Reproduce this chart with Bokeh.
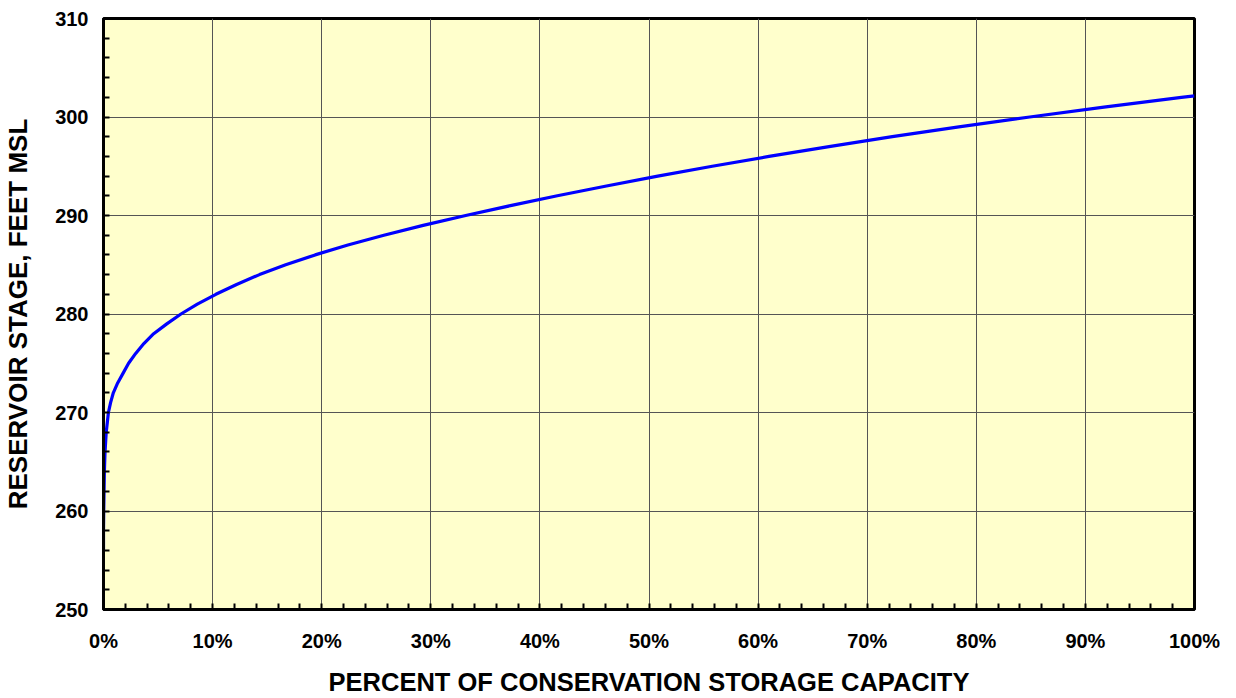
from bokeh.plotting import figure
from bokeh.models import PrintfTickFormatter, FixedTicker, Range1d
from bokeh.embed import file_html
from bokeh.resources import INLINE

# Percent of conservation storage capacity vs. reservoir stage (feet MSL)
pct = [0, 0, 0.02, 0.05, 0.08, 0.14, 0.25, 0.45, 0.65, 0.9, 1.3, 1.8, 2.3, 2.95,
       3.7, 4.6, 5.8, 7.1, 8.6, 10.3, 12.2, 14.3, 16.7, 19.4, 22.4, 25.7, 29.3,
       33.2, 37.3, 41.6, 46.1, 50.8, 55.8, 61.0, 66.5, 72.3, 78.4, 84.9, 91.7,
       98.8, 100]
stage = [256, 258, 260, 262, 264, 266, 268, 270, 271, 272, 273, 274, 275, 276,
         277, 278, 279, 280, 281, 282, 283, 284, 285, 286, 287, 288, 289,
         290, 291, 292, 293, 294, 295, 296, 297, 298, 299, 300, 301,
         302, 302.15]

x_ticks = [0, 10, 20, 30, 40, 50, 60, 70, 80, 90, 100]
y_ticks = [250, 260, 270, 280, 290, 300, 310]

FONT = "Liberation Sans"

p = figure(width=1220, height=682, frame_width=1091, frame_height=591,
           output_backend="svg", toolbar_location=None,
           x_range=Range1d(0, 100), y_range=Range1d(250, 310),
           min_border_left=102, min_border_top=18, min_border_right=26,
           min_border_bottom=60)

p.background_fill_color = "#FFFFCC"
p.border_fill_color = "white"
p.outline_line_color = "black"
p.outline_line_width = 3

p.line(pct, stage, line_color="#0000FF", line_width=3.2, line_join="round")

for ax in (p.xaxis[0], p.yaxis[0]):
    ax.axis_line_color = "black"
    ax.axis_line_width = 3
    ax.major_tick_in = 0
    ax.major_tick_out = 0
    ax.minor_tick_in = 6
    ax.minor_tick_out = 0
    ax.minor_tick_line_color = "black"
    ax.minor_tick_line_width = 2
    ax.major_label_text_font = FONT
    ax.major_label_text_font_style = "bold"
    ax.major_label_text_font_size = "20px"
    ax.major_label_text_color = "black"
    ax.axis_label_text_font = FONT
    ax.axis_label_text_font_style = "bold"
    ax.axis_label_text_color = "black"

p.xaxis.axis_label_text_font_size = "25.5px"
p.yaxis.axis_label_text_font_size = "26px"
p.xaxis.ticker = FixedTicker(ticks=x_ticks, minor_ticks=list(range(0, 101, 2)))
p.yaxis.ticker = FixedTicker(ticks=y_ticks, minor_ticks=list(range(250, 311, 2)))
p.xaxis.formatter = PrintfTickFormatter(format="%d%%")
p.xaxis.axis_label = "PERCENT OF CONSERVATION STORAGE CAPACITY"
p.yaxis.axis_label = "RESERVOIR STAGE, FEET MSL"
p.xaxis.major_label_standoff = 20
p.yaxis.major_label_standoff = 15
p.xaxis.axis_label_standoff = 13
p.yaxis.axis_label_standoff = 19

p.xgrid.ticker = FixedTicker(ticks=x_ticks)
p.ygrid.ticker = FixedTicker(ticks=y_ticks)
p.grid.grid_line_color = "#555555"
p.grid.grid_line_width = 1

open("out.html", "w").write(file_html(p, INLINE))
